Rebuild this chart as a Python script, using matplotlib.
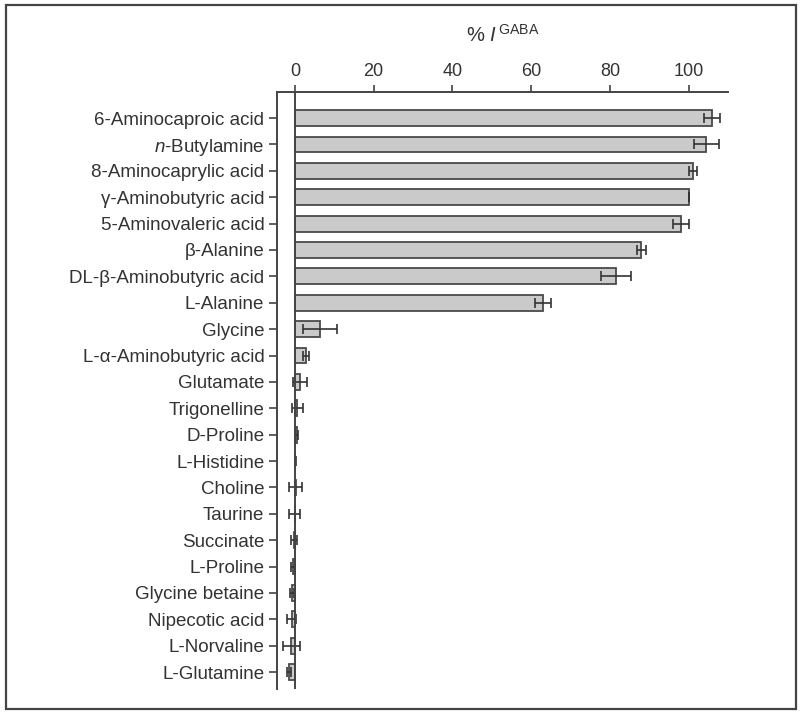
import matplotlib
matplotlib.use("Agg")
import matplotlib.pyplot as plt
from matplotlib.patches import Rectangle

plt.rcParams["font.family"] = ["Liberation Sans", "DejaVu Sans"]
plt.rcParams["mathtext.fontset"] = "custom"
plt.rcParams["mathtext.rm"] = "Liberation Sans"
plt.rcParams["mathtext.it"] = "Liberation Sans:italic"

compounds = [
    "6-Aminocaproic acid", r"$\mathit{n}$-Butylamine", "8-Aminocaprylic acid",
    "γ-Aminobutyric acid", "5-Aminovaleric acid", "β-Alanine",
    "DL-β-Aminobutyric acid", "L-Alanine", "Glycine", "L-α-Aminobutyric acid",
    "Glutamate", "Trigonelline", "D-Proline", "L-Histidine", "Choline",
    "Taurine", "Succinate", "L-Proline", "Glycine betaine", "Nipecotic acid",
    "L-Norvaline", "L-Glutamine",
]
response = [106.0, 104.5, 101.0, 100.0, 98.0, 88.0, 81.5, 63.0, 6.3, 2.8,
            1.3, 0.6, 0.5, 0.1, 0.2, 0.0, -0.3, -0.5, -0.7, -0.8, -0.9, -1.5]
sem = [2.0, 3.2, 1.0, 0.0, 2.0, 1.1, 3.8, 2.0, 4.3, 0.8,
       1.8, 1.4, 0.4, 0.2, 1.6, 1.4, 0.8, 0.4, 0.5, 1.1, 2.2, 0.6]
xticks = [0, 20, 40, 60, 80, 100]

txt = "#333333"
fig = plt.figure(figsize=(8, 7.15), dpi=100)
ax = fig.add_axes([0.346, 0.036, 0.564, 0.835])

ypos = list(range(len(compounds)))
ax.barh(ypos, response, height=0.6, color="#cacaca", edgecolor="#4a4a4a",
        linewidth=1.3, zorder=2)
ax.errorbar(response, ypos, xerr=sem, fmt="none", ecolor="#333333",
            elinewidth=1.2, capsize=3.5, capthick=1.2, zorder=3)
ax.axvline(0, color="#444444", linewidth=1.4, zorder=4)

ax.set_xlim(-4.6, 110)
ax.set_ylim(21.65, -0.98)
ax.xaxis.tick_top()
ax.set_xticks(xticks)
ax.set_yticks(ypos)
ax.set_yticklabels(compounds)
ax.tick_params(axis="x", direction="out", length=5, width=1.2, colors="#444444",
               labelcolor=txt, labelsize=13, pad=4)
ax.tick_params(axis="y", direction="out", length=6, width=1.2, colors="#444444",
               labelcolor=txt, labelsize=13.5, pad=3)
for side in ["right", "bottom"]:
    ax.spines[side].set_visible(False)
for side in ["top", "left"]:
    ax.spines[side].set_color("#444444")
    ax.spines[side].set_linewidth(1.4)

ax.set_title(r"% $\mathit{I}^{\,\mathrm{GABA}}$", fontsize=14.5, color=txt, pad=36)

# outer frame
fig.patches.append(Rectangle((0.007, 0.009), 0.988, 0.984, transform=fig.transFigure,
                             fill=False, edgecolor="#444444", linewidth=1.6))

fig.savefig("out.png", dpi=100)
